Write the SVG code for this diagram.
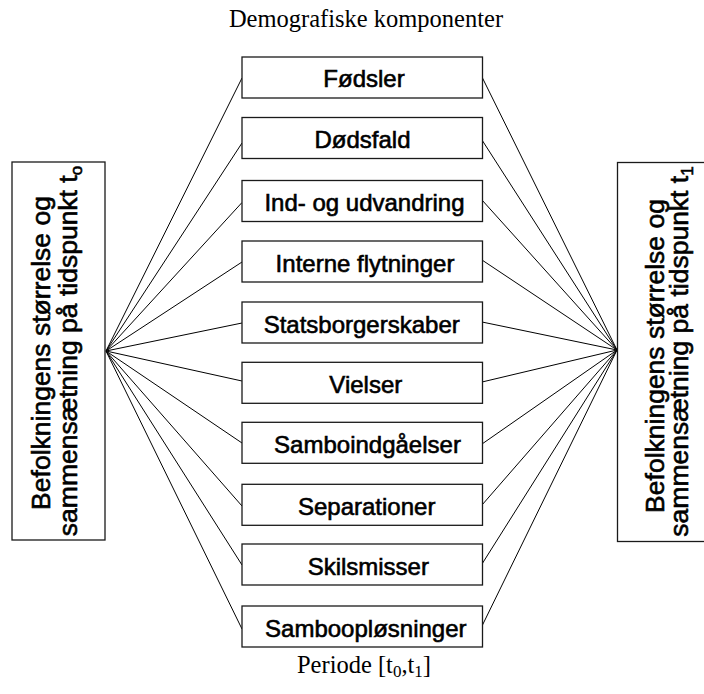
<svg xmlns="http://www.w3.org/2000/svg" width="704" height="694" viewBox="0 0 704 694">
<style>
.box{fill:#fff;stroke:#1a1a1a;stroke-width:1.3}
.lbl{font-family:"Liberation Sans",Arial,sans-serif;font-size:24px;fill:#000;text-anchor:middle;stroke:#000;stroke-width:0.6}
.side{font-family:"Liberation Sans",Arial,sans-serif;font-size:26.5px;fill:#000;text-anchor:middle;stroke:#000;stroke-width:0.6}
.cap{font-family:"Liberation Serif","Times New Roman",serif;font-size:24.5px;fill:#000;text-anchor:middle}
.con line{stroke:#000;stroke-width:1}
</style>
<rect width="704" height="694" fill="#fff"/>
<text class="cap" x="366" y="27">Demografiske komponenter</text>
<text class="cap" x="364" y="673" font-size="27.5">Periode [t<tspan font-size="17" dy="4">0</tspan><tspan dy="-4">,t</tspan><tspan font-size="17" dy="4">1</tspan><tspan dy="-4">]</tspan></text>
<g id="connectors" class="con">
<line x1="106" y1="351" x2="242" y2="78"/>
<line x1="106" y1="351" x2="242" y2="143"/>
<line x1="106" y1="351" x2="242" y2="202.5"/>
<line x1="106" y1="351" x2="242" y2="262"/>
<line x1="106" y1="351" x2="242" y2="323"/>
<line x1="106" y1="351" x2="242" y2="381"/>
<line x1="106" y1="351" x2="242" y2="443"/>
<line x1="106" y1="351" x2="242" y2="506"/>
<line x1="106" y1="351" x2="242" y2="565"/>
<line x1="106" y1="351" x2="242" y2="629"/>
<line x1="617" y1="350" x2="482" y2="77"/>
<line x1="617" y1="350" x2="482" y2="140"/>
<line x1="617" y1="350" x2="482" y2="200"/>
<line x1="617" y1="350" x2="482" y2="260"/>
<line x1="617" y1="350" x2="482" y2="322"/>
<line x1="617" y1="350" x2="482" y2="382"/>
<line x1="617" y1="350" x2="482" y2="444"/>
<line x1="617" y1="350" x2="482" y2="505"/>
<line x1="617" y1="350" x2="482" y2="564"/>
<line x1="617" y1="350" x2="482" y2="626"/>
</g>
<g id="start">
<rect class="box" x="12" y="162" width="93" height="378"/>
<text class="side" transform="translate(50,353) rotate(-90)">Befolkningens størrelse og</text>
<text class="side" transform="translate(77,351) rotate(-90)">sammensætning på tidspunkt t<tspan font-size="17" dy="5">o</tspan></text>
</g>
<g id="end">
<rect class="box" x="617.5" y="162.5" width="92" height="379"/>
<text class="side" transform="translate(664,356) rotate(-90)">Befolkningens størrelse og</text>
<text class="side" transform="translate(688,351.5) rotate(-90)">sammensætning på tidspunkt t<tspan font-size="17" dy="5">1</tspan></text>
</g>
<g id="n1"><rect class="box" x="242" y="57" width="240.5" height="41"/><text class="lbl" x="364" y="87">Fødsler</text></g>
<g id="n2"><rect class="box" x="242" y="117.5" width="240.5" height="41"/><text class="lbl" x="362.5" y="148">Dødsfald</text></g>
<g id="n3"><rect class="box" x="242" y="180.5" width="240.5" height="41"/><text class="lbl" x="364.5" y="211">Ind- og udvandring</text></g>
<g id="n4"><rect class="box" x="242" y="241" width="240.5" height="41"/><text class="lbl" x="365" y="271.5">Interne flytninger</text></g>
<g id="n5"><rect class="box" x="242" y="302" width="240.5" height="41"/><text class="lbl" x="361.7" y="332.5">Statsborgerskaber</text></g>
<g id="n6"><rect class="box" x="242" y="362.3" width="240.5" height="41"/><text class="lbl" x="365.8" y="392.8">Vielser</text></g>
<g id="n7"><rect class="box" x="242" y="422.3" width="240.5" height="41"/><text class="lbl" x="367.5" y="452.8">Samboindgåelser</text></g>
<g id="n8"><rect class="box" x="242" y="484.3" width="240.5" height="41"/><text class="lbl" x="366.7" y="514.8">Separationer</text></g>
<g id="n9"><rect class="box" x="242" y="544" width="240.5" height="41"/><text class="lbl" x="368.3" y="574.5">Skilsmisser</text></g>
<g id="n10"><rect class="box" x="242" y="606" width="240.5" height="41"/><text class="lbl" x="365.8" y="636.5">Samboopløsninger</text></g>
</svg>
